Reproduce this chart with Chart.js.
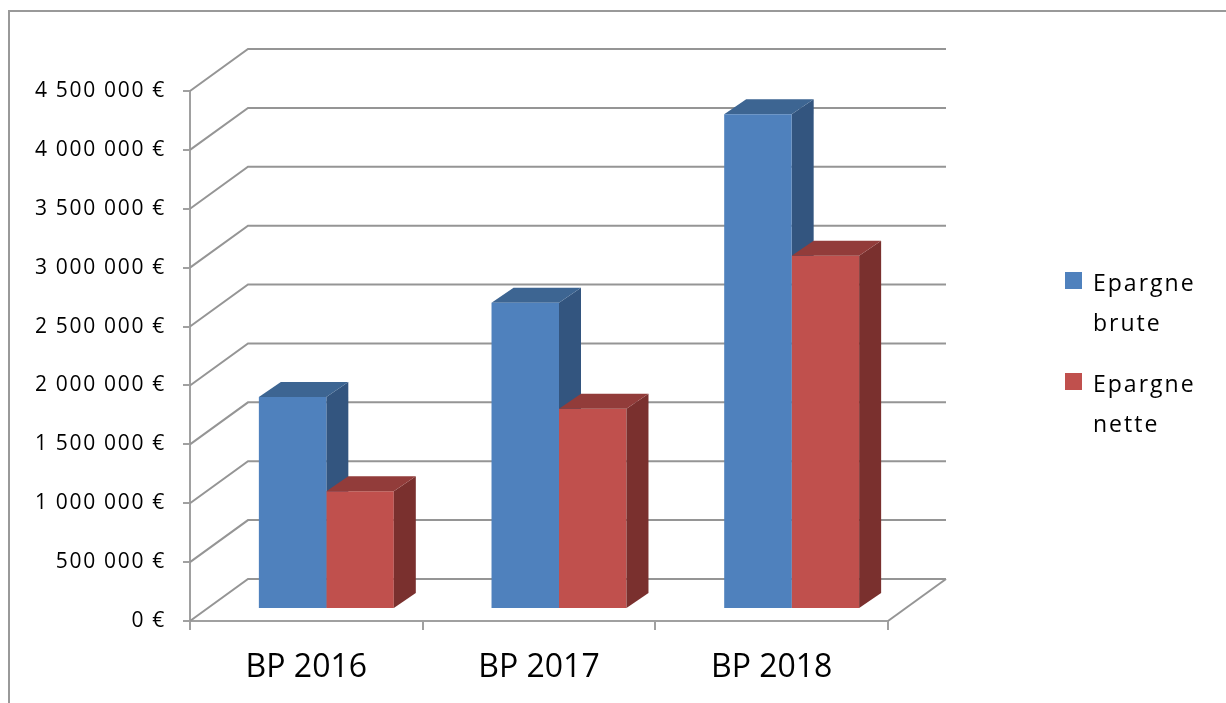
<!DOCTYPE html>
<html>
<head>
<meta charset="utf-8">
<script src="https://cdn.jsdelivr.net/npm/chart.js@4.4.1/dist/chart.umd.min.js"></script>
<style>
  html, body { margin: 0; padding: 0; background: #fff; }
  #wrap { position: relative; width: 1226px; height: 703px; overflow: hidden; }
  #legend { position: absolute; left: 1065px; top: 262px; font-family: 'Open Sans'; font-size: 23px; letter-spacing: 2px; line-height: 40px; color: #000; }
  .item { position: relative; padding-left: 28px; width: 125px; margin-bottom: 21px; }
  .box { position: absolute; left: 0; top: 10px; width: 17px; height: 17px; }
</style>
</head>
<body>
<div id="wrap">
  <canvas id="myChart" width="1226" height="703"></canvas>
  <div id="legend"></div>
</div>
<script>
const categories = ['BP 2016', 'BP 2017', 'BP 2018'];
const epargneBrute = [1800000, 2600000, 4200000];
const epargneNette = [1000000, 1700000, 3000000];
const seriesNames = ['Epargne brute', 'Epargne nette'];
const yTickLabels = ['0 €', '500 000 €', '1 000 000 €', '1 500 000 €', '2 000 000 €',
  '2 500 000 €', '3 000 000 €', '3 500 000 €', '4 000 000 €', '4 500 000 €'];

// fake 3d: back wall offset, bar offset from the front plane, bar depth
const WALL = { dx: 58, dy: -42 };
const BAR = { dx: 20, dy: -12 };
const DEPTH = { dx: 22, dy: -15 };

const faceColors = {
  '#4f81bd': { top: '#3d6592', side: '#33557f' },
  '#c0504d': { top: '#923c3a', side: '#7a302e' }
};

function drawFaces(chart, i) {
  const ctx = chart.ctx;
  const meta = chart.getDatasetMeta(i);
  const cols = faceColors[chart.data.datasets[i].backgroundColor];
  ctx.save();
  ctx.translate(BAR.dx, BAR.dy);
  meta.data.forEach(bar => {
    const { x, y, base, width } = bar.getProps(['x', 'y', 'base', 'width'], true);
    const l = x - width / 2, r = x + width / 2;
    ctx.fillStyle = cols.side;
    ctx.beginPath();
    ctx.moveTo(r, y);
    ctx.lineTo(r + DEPTH.dx, y + DEPTH.dy);
    ctx.lineTo(r + DEPTH.dx, base + DEPTH.dy);
    ctx.lineTo(r, base);
    ctx.closePath();
    ctx.fill();
    ctx.fillStyle = cols.top;
    ctx.beginPath();
    ctx.moveTo(l, y);
    ctx.lineTo(l + DEPTH.dx, y + DEPTH.dy);
    ctx.lineTo(r + DEPTH.dx, y + DEPTH.dy);
    ctx.lineTo(r, y);
    ctx.closePath();
    ctx.fill();
  });
  ctx.restore();
}

const excel3d = {
  id: 'excel3d',
  beforeDraw(chart) {
    const ctx = chart.ctx;
    ctx.save();
    ctx.strokeStyle = '#999';
    ctx.lineWidth = 2;
    ctx.beginPath();
    ctx.moveTo(9, chart.height);
    ctx.lineTo(9, 11);
    ctx.lineTo(chart.width, 11);
    ctx.stroke();
    ctx.restore();

    // y labels are spaced out like in the excel export
    const ys = chart.scales.y;
    if (!ys._spaced) {
      const orig = ys.drawLabels;
      ys.drawLabels = function (area) {
        this.ctx.save();
        this.ctx.letterSpacing = '1.7px';
        orig.call(this, area);
        this.ctx.restore();
      };
      ys._spaced = true;
    }
  },
  beforeDatasetsDraw(chart) {
    const { ctx, chartArea: a, scales: { y } } = chart;
    ctx.save();
    ctx.strokeStyle = '#959595';
    ctx.lineWidth = 2;
    y.ticks.forEach(t => {
      const py = y.getPixelForValue(t.value);
      ctx.beginPath();
      ctx.moveTo(a.left, py);
      ctx.lineTo(a.left + WALL.dx, py + WALL.dy);
      ctx.lineTo(a.right + WALL.dx, py + WALL.dy);
      ctx.stroke();
    });
    const p0 = y.getPixelForValue(0);
    ctx.beginPath();
    ctx.moveTo(a.right, p0);
    ctx.lineTo(a.right + WALL.dx, p0 + WALL.dy);
    ctx.stroke();
    ctx.restore();

    drawFaces(chart, 0);
    ctx.save();
    ctx.translate(BAR.dx, BAR.dy);
  },
  afterDatasetsDraw(chart) {
    chart.ctx.restore();
    drawFaces(chart, 1);
  }
};

const ctx = document.getElementById('myChart');

const chart = new Chart(ctx, {
  type: 'bar',
  data: {
    labels: categories,
    datasets: [{
      label: seriesNames[0],
      data: epargneBrute,
      backgroundColor: '#4f81bd',
      categoryPercentage: 0.58,
      barPercentage: 1
    }, {
      label: seriesNames[1],
      data: epargneNette,
      backgroundColor: '#c0504d',
      categoryPercentage: 0.58,
      barPercentage: 1
    }]
  },
  options: {
    responsive: false,
    animation: false,
    devicePixelRatio: 1,
    layout: { padding: { top: 91, right: 338, left: 0, bottom: 0 } },
    plugins: {
      legend: { display: false },
      tooltip: { enabled: false }
    },
    scales: {
      x: {
        afterFit: s => { s.height = 82; },
        grid: { offset: true, drawOnChartArea: false, tickLength: 9, color: '#a0a0a0', lineWidth: 2 },
        border: { color: '#a0a0a0', width: 2 },
        ticks: { color: '#000', font: { family: 'Open Sans', size: 32 }, padding: 19, maxRotation: 0 }
      },
      y: {
        min: 0,
        max: 4500000,
        afterFit: s => { s.width = 190; },
        grid: { drawOnChartArea: false, tickLength: 7, color: '#a0a0a0', lineWidth: 2 },
        border: { color: '#a0a0a0', width: 2 },
        ticks: {
          stepSize: 500000,
          color: '#000',
          padding: 17,
          font: { family: 'Open Sans', size: 21 },
          callback: (v, i) => yTickLabels[i]
        }
      }
    }
  },
  plugins: [excel3d]
});

// legend built from the datasets, wrapped like the original
const legend = document.getElementById('legend');
chart.data.datasets.forEach(ds => {
  const item = document.createElement('div');
  item.className = 'item';
  const box = document.createElement('span');
  box.className = 'box';
  box.style.background = ds.backgroundColor;
  item.appendChild(box);
  item.appendChild(document.createTextNode(ds.label));
  legend.appendChild(item);
});
</script>
</body>
</html>
